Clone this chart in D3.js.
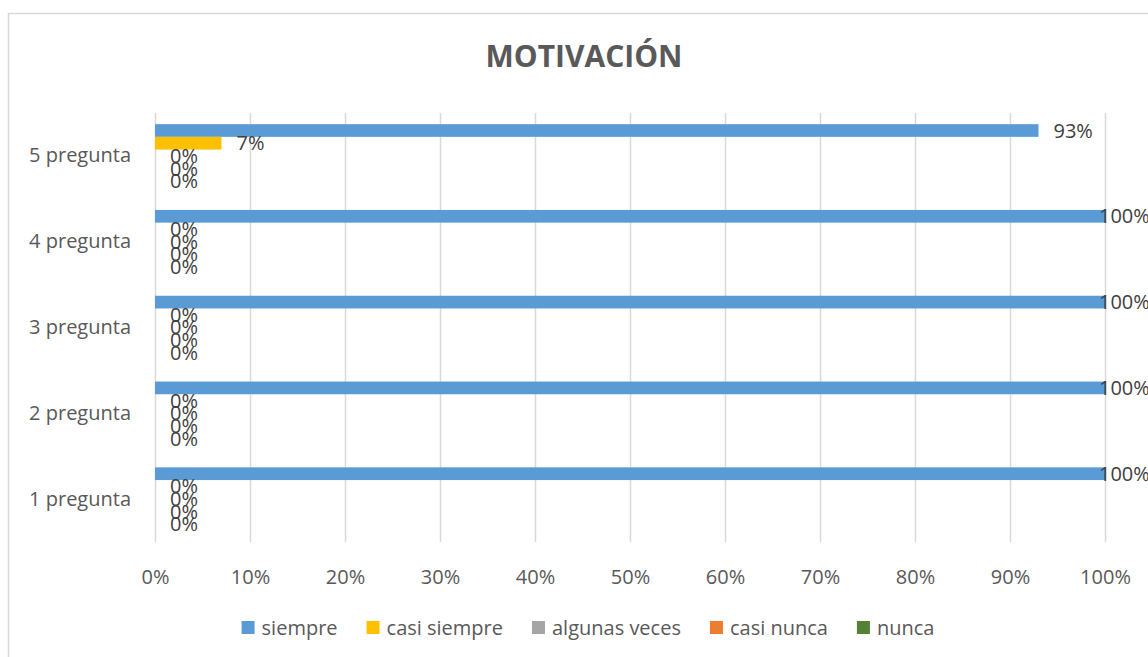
<!DOCTYPE html>
<html>
<head>
<meta charset="utf-8">
<script src="https://cdn.jsdelivr.net/npm/d3@7"></script>
<style>
  body { margin: 0; background: #fff; }
  svg { display: block; font-family: "Open Sans", "Noto Sans", sans-serif; }
</style>
</head>
<body>
<script>

var width = 1148,
    height = 657,
    margin = { top: 113, right: 43, bottom: 115, left: 155 };

// data
var categories = ["1 pregunta", "2 pregunta", "3 pregunta", "4 pregunta", "5 pregunta"];
var seriesNames = ["siempre", "casi siempre", "algunas veces", "casi nunca", "nunca"];
var siempre      = [1.00, 1.00, 1.00, 1.00, 0.93];
var casiSiempre  = [0.00, 0.00, 0.00, 0.00, 0.07];
var algunasVeces = [0.00, 0.00, 0.00, 0.00, 0.00];
var casiNunca    = [0.00, 0.00, 0.00, 0.00, 0.00];
var nunca        = [0.00, 0.00, 0.00, 0.00, 0.00];
var xTicks = [0, 0.1, 0.2, 0.3, 0.4, 0.5, 0.6, 0.7, 0.8, 0.9, 1];

var colors = ["#5b9bd5", "#ffc000", "#a5a5a5", "#ed7d31", "#548235"];
var seriesValues = [siempre, casiSiempre, algunasVeces, casiNunca, nunca];

var rows = categories.map(function(c, i) {
    return {
        name: c,
        values: seriesNames.map(function(s, j) {
            return { series: s, idx: j, value: seriesValues[j][i] };
        })
    };
});

var pct = d3.format(".0%");
var fontSize = "20px";

var svg = d3.select("body").append("svg")
    .attr("width", width)
    .attr("height", height);

// chart border (runs off the right and bottom edge)
svg.append("rect")
    .attr("x", 8.5)
    .attr("y", 13.5)
    .attr("width", width + 20)
    .attr("height", height + 20)
    .attr("fill", "none")
    .attr("stroke", "#d9d9d9")
    .attr("stroke-width", 1.5);

svg.append("text")
    .attr("x", 584)
    .attr("y", 67)
    .attr("text-anchor", "middle")
    .attr("font-size", "30px")
    .attr("font-weight", "bold")
    .attr("fill", "#595959")
    .text("MOTIVACIÓN");

var x = d3.scaleLinear()
    .domain([0, 1])
    .range([margin.left, width - margin.right]);

var y = d3.scaleBand()
    .domain(categories.slice().reverse())
    .range([margin.top, height - margin.bottom])
    .paddingInner(0.26)
    .paddingOuter(0.13);

var y1 = d3.scaleBand()
    .domain(d3.range(seriesNames.length))
    .range([0, y.bandwidth()]);

// gridlines
svg.append("g")
    .selectAll("line")
    .data(xTicks)
    .enter().append("line")
        .attr("x1", function(d) { return x(d) + 0.5; })
        .attr("x2", function(d) { return x(d) + 0.5; })
        .attr("y1", margin.top)
        .attr("y2", height - margin.bottom)
        .attr("stroke", "#d9d9d9")
        .attr("stroke-width", 1.5);

// x axis labels
var xAxis = svg.append("g")
    .attr("transform", "translate(0," + (height - margin.bottom) + ")")
    .call(d3.axisBottom(x).tickValues(xTicks).tickFormat(pct).tickSize(0).tickPadding(28));
xAxis.select(".domain").remove();
xAxis.selectAll("text")
    .attr("font-size", fontSize)
    .attr("font-family", "\"Open Sans\", \"Noto Sans\", sans-serif")
    .attr("fill", "#595959");

// category labels
var yAxis = svg.append("g")
    .attr("transform", "translate(" + margin.left + ",0)")
    .call(d3.axisLeft(y).tickSize(0).tickPadding(24));
yAxis.select(".domain").remove();
yAxis.selectAll("text")
    .attr("font-size", fontSize)
    .attr("font-family", "\"Open Sans\", \"Noto Sans\", sans-serif")
    .attr("fill", "#595959");

var groups = svg.append("g")
    .selectAll("g")
    .data(rows)
    .enter().append("g")
        .attr("transform", function(d) { return "translate(0," + y(d.name) + ")"; });

groups.selectAll("rect")
    .data(function(d) { return d.values; })
    .enter().append("rect")
        .attr("x", x(0))
        .attr("y", function(d) { return y1(d.idx); })
        .attr("width", function(d) { return x(d.value) - x(0); })
        .attr("height", y1.bandwidth())
        .attr("fill", function(d) { return colors[d.idx]; });

groups.selectAll("text")
    .data(function(d) { return d.values; })
    .enter().append("text")
        .attr("x", function(d) { return Math.min(x(d.value) + 15, width - 49); })
        .attr("y", function(d) { return y1(d.idx) + y1.bandwidth() / 2; })
        .attr("dy", "0.35em")
        .attr("font-size", fontSize)
        .attr("fill", "#404040")
        .text(function(d) { return pct(d.value); });

// legend
var legend = svg.append("g");
var lx = 0;
seriesNames.forEach(function(s, i) {
    var item = legend.append("g").attr("transform", "translate(" + lx + ",0)");
    item.append("rect")
        .attr("x", 0)
        .attr("y", -14)
        .attr("width", 13)
        .attr("height", 13)
        .attr("fill", colors[i]);
    var t = item.append("text")
        .attr("x", 20)
        .attr("y", 0)
        .attr("font-size", fontSize)
        .attr("fill", "#595959")
        .text(s);
    lx += 20 + t.node().getComputedTextLength() + 29;
});
var legendWidth = lx - 29;
legend.attr("transform", "translate(" + (588 - legendWidth / 2) + ",635)");

</script>
</body>
</html>
